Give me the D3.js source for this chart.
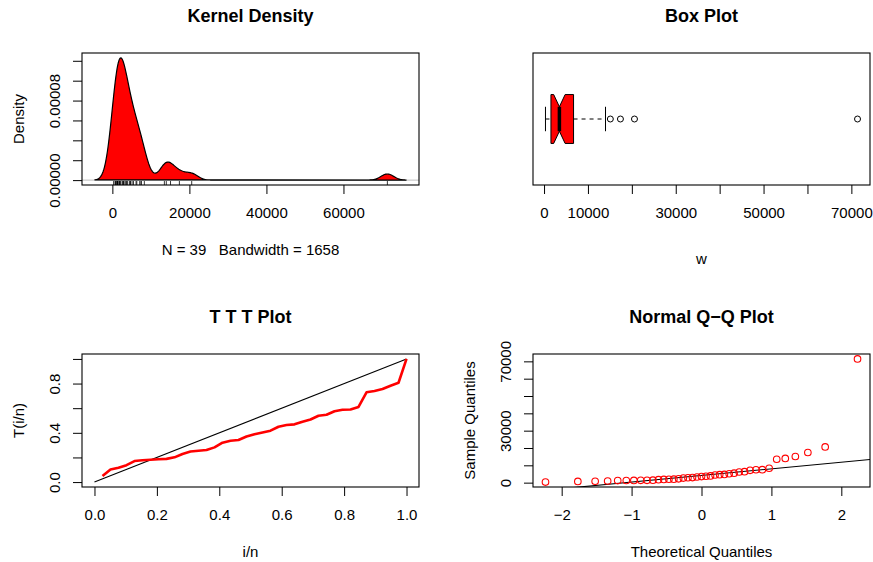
<!DOCTYPE html>
<html>
<head>
<meta charset="utf-8">
<script src="https://cdn.jsdelivr.net/npm/d3@7"></script>
<style>
body { margin: 0; background: #fff; }
svg text { font-family: "Liberation Sans", Arial, Helvetica, sans-serif; fill: #000; }
</style>
</head>
<body>
<svg id="chart" width="873" height="562"></svg>
<script>
// sorted sample w (box plot and TTT curve)
const w = [330, 700, 800, 950, 1200, 1250, 1280, 1320, 1340, 1450,
  1700, 1880, 1950, 2000, 2230, 2650, 2830, 2900, 3250, 3500,
  3700, 3900, 4400, 4620, 4720, 5120, 5480, 6150, 6350, 7100,
  7450, 7500, 8300, 13500, 14000, 15100, 17400, 20600, 71400];
const bandwidth = 1658;

// ticks and which of them carry a label
const densXTicks = [0, 20000, 40000, 60000];
const densYTicks = [0, 0.00002, 0.00004, 0.00006, 0.00008, 0.0001, 0.00012];
const densYLabels = [0, 0.00008];
const boxTicks = [0, 10000, 20000, 30000, 40000, 50000, 60000, 70000];
const boxLabels = [0, 10000, 30000, 50000, 70000];
const tttTicks = [0, 0.2, 0.4, 0.6, 0.8, 1.0];
const tttYLabels = [0, 0.4, 0.8];
const qqXTicks = [-2, -1, 0, 1, 2];
const qqYTicks = [0, 10000, 20000, 30000, 40000, 50000, 60000, 70000];
const qqYLabels = [0, 30000, 70000];

const svg = d3.select('#chart');
const n = w.length;

// plot regions (R mfrow 2x2)
const cols = [[82, 419], [533, 870]];
const rows = [[53, 185], [354, 487]];
const TICK = 9;

// R pads axis ranges by 4%
function rRange(lo, hi) {
    const d = (hi - lo) * 0.04;
    return [lo - d, hi + d];
}

function has(arr, v) {
    return arr.some(a => Math.abs(a - v) < 1e-12);
}

// inverse normal cdf (Acklam)
function qnorm(p) {
    const a = [-3.969683028665376e+01, 2.209460984245205e+02, -2.759285104469687e+02, 1.383577518672690e+02, -3.066479806614716e+01, 2.506628277459239e+00];
    const b = [-5.447609879822406e+01, 1.615858368580409e+02, -1.556989798598866e+02, 6.680131188771972e+01, -1.328068155288572e+01];
    const c = [-7.784894002430293e-03, -3.223964580411365e-01, -2.400758277161838e+00, -2.549732539343734e+00, 4.374664141464968e+00, 2.938163982698783e+00];
    const d = [7.784695709041462e-03, 3.224671290700398e-01, 2.445134137142996e+00, 3.754408661907416e+00];
    const pl = 0.02425;
    if (p < pl) {
        const q = Math.sqrt(-2 * Math.log(p));
        return (((((c[0]*q+c[1])*q+c[2])*q+c[3])*q+c[4])*q+c[5]) / ((((d[0]*q+d[1])*q+d[2])*q+d[3])*q+1);
    }
    if (p > 1 - pl) {
        const q = Math.sqrt(-2 * Math.log(1 - p));
        return -(((((c[0]*q+c[1])*q+c[2])*q+c[3])*q+c[4])*q+c[5]) / ((((d[0]*q+d[1])*q+d[2])*q+d[3])*q+1);
    }
    const q = p - 0.5, r = q * q;
    return (((((a[0]*r+a[1])*r+a[2])*r+a[3])*r+a[4])*r+a[5])*q / (((((b[0]*r+b[1])*r+b[2])*r+b[3])*r+b[4])*r+1);
}

// set up one panel: group, clip, title, labels
function panel(ci, ri, id, title, xlab, ylab, xlabY) {
    const [x0, x1] = cols[ci], [y0, y1] = rows[ri];
    const g = svg.append('g');
    svg.append('clipPath').attr('id', id)
        .append('rect').attr('x', x0).attr('y', y0).attr('width', x1 - x0).attr('height', y1 - y0);
    g.append('text').attr('x', (x0 + x1) / 2).attr('y', y0 - 37).attr('dy', '0.35em')
        .attr('text-anchor', 'middle').attr('font-size', 18).attr('font-weight', 'bold').text(title);
    g.append('text').attr('x', (x0 + x1) / 2).attr('y', xlabY || y1 + 64.5).attr('dy', '0.35em')
        .attr('text-anchor', 'middle').attr('font-size', 15).style('white-space', 'pre').text(xlab);
    if (ylab) {
        g.append('text').attr('transform', `translate(${x0 - 63.5},${(y0 + y1) / 2}) rotate(-90)`)
            .attr('dy', '0.35em').attr('text-anchor', 'middle').attr('font-size', 15).text(ylab);
    }
    return { g, x0, x1, y0, y1, clip: `url(#${id})` };
}

function frame(p) {
    p.g.append('rect').attr('x', p.x0).attr('y', p.y0).attr('width', p.x1 - p.x0).attr('height', p.y1 - p.y0)
        .attr('fill', 'none').attr('stroke', '#000').attr('stroke-width', 1.1);
}

function bottomAxis(p, scale, ticks, labels, fmt) {
    const ax = p.g.append('g').attr('transform', `translate(0,${p.y1})`)
        .call(d3.axisBottom(scale).tickValues(ticks).tickSize(TICK)
            .tickFormat(d => has(labels, d) ? fmt(d) : ''));
    ax.attr('font-size', 15).attr('font-family', null);
    ax.select('.domain').remove();
    ax.selectAll('.tick line').attr('stroke', '#000');
    ax.selectAll('.tick text').attr('y', 27.5).attr('dy', '0.35em');
}

function leftAxis(p, scale, ticks, labels, fmt) {
    const ax = p.g.append('g').attr('transform', `translate(${p.x0},0)`)
        .call(d3.axisLeft(scale).tickValues(ticks).tickSize(TICK)
            .tickFormat(d => has(labels, d) ? fmt(d) : ''));
    ax.attr('font-size', 15).attr('font-family', null);
    ax.select('.domain').remove();
    ax.selectAll('.tick line').attr('stroke', '#000');
    ax.selectAll('.tick text').attr('x', 0).attr('y', 0).attr('dy', '0.35em')
        .attr('text-anchor', 'middle').attr('transform', 'translate(-27,0) rotate(-90)');
}

// ---------- Kernel Density ----------
(function() {
    const p = panel(0, 0, 'clip-dens', 'Kernel Density', 'N = 39   Bandwidth = 1658', 'Density');
    const lo = w[0] - 3 * bandwidth, hi = w[n - 1] + 3 * bandwidth;
    const k = 1 / (n * bandwidth * Math.sqrt(2 * Math.PI));
    const dens = d3.range(512).map(i => {
        const x = lo + i * (hi - lo) / 511;
        return { x, y: k * d3.sum(w, v => Math.exp(-0.5 * ((x - v) / bandwidth) ** 2)) };
    });
    const x = d3.scaleLinear().domain(rRange(lo, hi)).range([p.x0, p.x1]);
    const y = d3.scaleLinear().domain(rRange(0, d3.max(dens, d => d.y))).range([p.y1, p.y0]);

    const line = d3.line().x(d => x(d.x)).y(d => y(d.y));
    p.g.append('line').attr('x1', p.x0).attr('x2', p.x1).attr('y1', y(0)).attr('y2', y(0))
        .attr('stroke', '#bebebe').attr('stroke-width', 1);
    p.g.append('path').datum(dens).attr('clip-path', p.clip)
        .attr('d', line(dens) + 'Z').attr('fill', '#ff0000').attr('stroke', '#000').attr('stroke-width', 1.2);
    // rug
    p.g.append('g').selectAll('line').data(w).join('line')
        .attr('x1', d => x(d)).attr('x2', d => x(d))
        .attr('y1', p.y1).attr('y2', p.y1 - 0.03 * (p.y1 - p.y0))
        .attr('stroke', '#000').attr('stroke-width', 0.8);

    bottomAxis(p, x, densXTicks, densXTicks, d3.format('d'));
    leftAxis(p, y, densYTicks, densYLabels, d3.format('.5f'));
    frame(p);
})();

// ---------- Box Plot ----------
(function() {
    const p = panel(1, 0, 'clip-box', 'Box Plot', 'w', null, 259);
    const n4 = Math.floor((n + 3) / 2) / 2;
    const five = [1, n4, (n + 1) / 2, n + 1 - n4, n]
        .map(d => 0.5 * (w[Math.floor(d) - 1] + w[Math.ceil(d) - 1]));
    const iqr = five[3] - five[1];
    const inside = w.filter(v => v >= five[1] - 1.5 * iqr && v <= five[3] + 1.5 * iqr);
    const wLo = d3.min(inside), wHi = d3.max(inside);
    const outliers = w.filter(v => v < wLo || v > wHi);
    const med = five[2];
    const nLo = med - 1.58 * iqr / Math.sqrt(n), nHi = med + 1.58 * iqr / Math.sqrt(n);

    const x = d3.scaleLinear().domain(rRange(w[0], w[n - 1])).range([p.x0, p.x1]);
    const y = d3.scaleLinear().domain(rRange(0.5, 1.5)).range([p.y1, p.y0]);
    const hw = 0.2;

    // whiskers
    [[wLo, five[1]], [five[3], wHi]].forEach(([a, b]) => {
        p.g.append('line').attr('x1', x(a)).attr('x2', x(b)).attr('y1', y(1)).attr('y2', y(1))
            .attr('stroke', '#000').attr('stroke-dasharray', '4,4');
    });
    [wLo, wHi].forEach(v => {
        p.g.append('line').attr('x1', x(v)).attr('x2', x(v)).attr('y1', y(1 - hw / 2)).attr('y2', y(1 + hw / 2))
            .attr('stroke', '#000');
    });
    // notched box
    const pts = [[five[1], -hw], [nLo, -hw], [med, -hw / 2], [nHi, -hw], [five[3], -hw],
        [five[3], hw], [nHi, hw], [med, hw / 2], [nLo, hw], [five[1], hw]];
    p.g.append('polygon').attr('points', pts.map(d => `${x(d[0])},${y(1 + d[1])}`).join(' '))
        .attr('fill', '#ff0000').attr('stroke', '#000').attr('stroke-width', 1);
    p.g.append('line').attr('x1', x(med)).attr('x2', x(med)).attr('y1', y(1 - hw / 2)).attr('y2', y(1 + hw / 2))
        .attr('stroke', '#000').attr('stroke-width', 3.5);
    // outliers
    p.g.append('g').selectAll('circle').data(outliers).join('circle')
        .attr('cx', d => x(d)).attr('cy', y(1)).attr('r', 3)
        .attr('fill', 'none').attr('stroke', '#000').attr('stroke-width', 1);

    bottomAxis(p, x, boxTicks, boxLabels, d3.format('d'));
    frame(p);
})();

// ---------- T T T Plot ----------
(function() {
    const p = panel(0, 1, 'clip-ttt', 'T T T Plot', 'i/n', 'T(i/n)');
    const total = d3.sum(w);
    let cum = 0;
    const ttt = w.map((v, i) => {
        cum += v;
        return { x: (i + 1) / n, y: (cum + (n - i - 1) * v) / total };
    });
    const x = d3.scaleLinear().domain(rRange(0, 1)).range([p.x0, p.x1]);
    const y = d3.scaleLinear().domain(rRange(0, 1)).range([p.y1, p.y0]);

    p.g.append('line').attr('x1', x(0)).attr('y1', y(0)).attr('x2', x(1)).attr('y2', y(1))
        .attr('stroke', '#000').attr('stroke-width', 1.1);
    p.g.append('path').datum(ttt)
        .attr('d', d3.line().x(d => x(d.x)).y(d => y(d.y)))
        .attr('fill', 'none').attr('stroke', '#ff0000').attr('stroke-width', 2.6)
        .attr('stroke-linejoin', 'round');

    const f = d3.format('.1f');
    bottomAxis(p, x, tttTicks, tttTicks, f);
    leftAxis(p, y, tttTicks, tttYLabels, f);
    frame(p);
})();

// ---------- Normal Q-Q Plot ----------
(function() {
    const p = panel(1, 1, 'clip-qq', 'Normal Q\u2212Q Plot', 'Theoretical Quantiles', 'Sample Quantiles');
    const theo = w.map((v, i) => qnorm((i + 0.5) / n));
    const pts = w.map((v, i) => ({ t: theo[i], v }));
    const x = d3.scaleLinear().domain(rRange(theo[0], theo[n - 1])).range([p.x0, p.x1]);
    const y = d3.scaleLinear().domain(rRange(w[0], w[n - 1])).range([p.y1, p.y0]);

    // qqline through the quartiles
    const q1 = d3.quantileSorted(w, 0.25), q3 = d3.quantileSorted(w, 0.75);
    const z1 = qnorm(0.25), z3 = qnorm(0.75);
    const slope = (q3 - q1) / (z3 - z1), icpt = q1 - slope * z1;
    const [xa, xb] = x.domain();
    p.g.append('line').attr('clip-path', p.clip)
        .attr('x1', x(xa)).attr('y1', y(icpt + slope * xa))
        .attr('x2', x(xb)).attr('y2', y(icpt + slope * xb))
        .attr('stroke', '#000').attr('stroke-width', 1.1);

    p.g.append('g').selectAll('circle').data(pts).join('circle')
        .attr('cx', d => x(d.t)).attr('cy', d => y(d.v)).attr('r', 3.3)
        .attr('fill', 'none').attr('stroke', '#ff0000').attr('stroke-width', 1.1);

    const f = d3.format('d');
    bottomAxis(p, x, qqXTicks, qqXTicks, f);
    leftAxis(p, y, qqYTicks, qqYLabels, f);
    frame(p);
})();
</script>
</body>
</html>
